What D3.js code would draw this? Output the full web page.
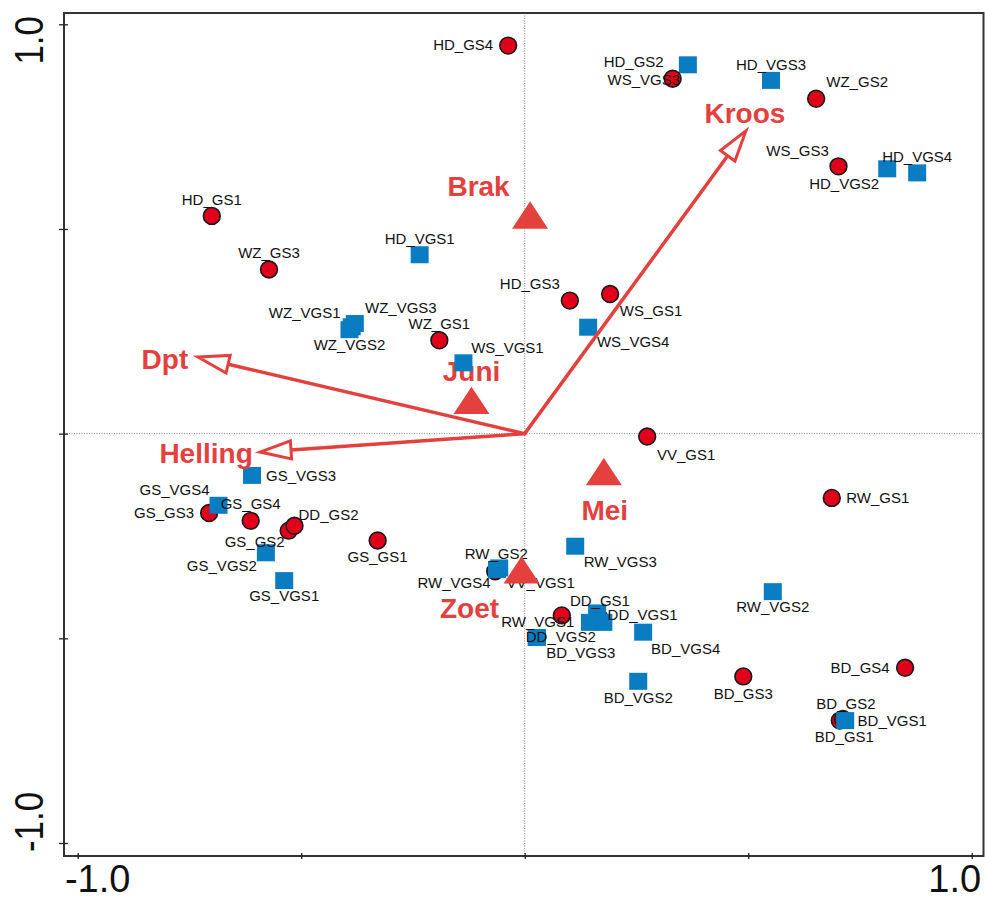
<!DOCTYPE html>
<html>
<head>
<meta charset="utf-8">
<script src="https://cdn.jsdelivr.net/npm/d3@7"></script>
<style>
  html, body { margin: 0; padding: 0; background: #fff; }
  svg { display: block; }
  text { font-family: "Liberation Sans", Arial, Helvetica, sans-serif; }
</style>
</head>
<body>
<svg id="chart" width="985" height="901"></svg>
<script>
// ---- Site scores (axis 1, axis 2); 'GS' drawn as circles, 'VGS' as squares ----
const siteNames = [
  "WS_VGS3",
  "HD_GS4", "HD_GS2", "WZ_GS2", "WS_GS3", "HD_GS1", "WZ_GS3", "HD_GS3", "WS_GS1",
  "WZ_GS1", "VV_GS1", "RW_GS1", "GS_GS3", "GS_GS4", "GS_GS2", "DD_GS2", "GS_GS1",
  "RW_GS2", "RW_VGS1", "DD_GS1", "BD_GS3", "BD_GS4", "BD_GS1", "BD_GS2",
  "HD_VGS3", "HD_VGS2", "HD_VGS4", "HD_VGS1", "WZ_VGS1", "WZ_VGS3", "WZ_VGS2",
  "WS_VGS4", "WS_VGS1", "GS_VGS3", "GS_VGS4", "GS_VGS2", "GS_VGS1", "RW_VGS4",
  "VV_VGS1", "RW_VGS3", "DD_VGS1", "DD_VGS3", "DD_VGS4", "DD_VGS2", "BD_VGS3",
  "BD_VGS4", "BD_VGS2", "RW_VGS2", "BD_VGS1"
];
const siteType = [
  "VGS",
  "GS", "GS", "GS", "GS", "GS", "GS", "GS", "GS",
  "GS", "GS", "GS", "GS", "GS", "GS", "GS", "GS",
  "GS", "GS", "GS", "GS", "GS", "GS", "GS",
  "VGS", "VGS", "VGS", "VGS", "VGS", "VGS", "VGS",
  "VGS", "VGS", "VGS", "VGS", "VGS", "VGS", "VGS",
  "VGS", "VGS", "VGS", "VGS", "VGS", "VGS", "VGS",
  "VGS", "VGS", "VGS", "VGS"
];
const siteAxis1 = [
  0.365,
  -0.037, 0.331, 0.652, 0.702, -0.700, -0.572, 0.101, 0.191,
  -0.191, 0.274, 0.687, -0.706, -0.613, -0.528, -0.515, -0.329,
  -0.066, 0.083, 0.166, 0.489, 0.851, 0.705, 0.712,
  0.551, 0.811, 0.878, -0.235, -0.387, -0.380, -0.392,
  0.142, -0.137, -0.610, -0.685, -0.579, -0.538, -0.062,
  -0.057, 0.113, 0.162, 0.146, 0.176, 0.027, 0.027,
  0.265, 0.254, 0.555, 0.717
];
const siteAxis2 = [
  0.901,
  0.948, 0.867, 0.818, 0.653, 0.532, 0.401, 0.325, 0.341,
  0.228, -0.007, -0.157, -0.194, -0.213, -0.237, -0.225, -0.261,
  -0.336, -0.444, -0.448, -0.593, -0.572, -0.701, -0.697,
  0.863, 0.647, 0.637, 0.437, 0.261, 0.269, 0.254,
  0.260, 0.173, -0.102, -0.175, -0.291, -0.359, -0.332,
  -0.328, -0.275, -0.438, -0.461, -0.461, -0.498, -0.498,
  -0.485, -0.605, -0.386, -0.701
];

// ---- Environmental vectors (arrows) ----
const envNames = ["Kroos", "Dpt", "Helling"];
const envAxis1 = [0.495, -0.731, -0.592];
const envAxis2 = [0.740, 0.187, -0.045];

// ---- Nominal variable centroids (triangles) ----
const centroidNames = ["Brak", "Juni", "Mei", "Zoet"];
const centroidAxis1 = [0.012, -0.119, 0.177, -0.007];
const centroidAxis2 = [0.534, 0.081, -0.093, -0.333];

// ---- Axis ticks ----
const tickValues = [-1, -0.5, 0, 0.5, 1];
const tickLabels = ["-1.0", "1.0"];
const tickLabelValues = [-1, 1];

// ---- Label placement (pixel offsets of label centre from its mark) ----
const siteLabelOffset = {
  HD_GS4: [-45, -1], HD_GS2: [-39, -17], WS_VGS3: [-44, 15], HD_VGS3: [0, -16],
  WZ_GS2: [41, -17], WS_GS3: [-41, -16], HD_VGS2: [-43, 15], HD_VGS4: [0, -16],
  HD_GS1: [0, -16], WZ_GS3: [0, -17], HD_VGS1: [0, -16], HD_GS3: [-40, -17],
  WS_GS1: [41, 17], WS_VGS4: [45, 14], WZ_VGS1: [-47, -14], WZ_VGS3: [46, -16],
  WZ_VGS2: [0, 15], WZ_GS1: [0, -17], WS_VGS1: [44, -15], VV_GS1: [39, 18],
  RW_GS1: [46, 0], GS_VGS3: [49, 0], GS_VGS4: [-44, -16], GS_GS3: [-45, 0],
  GS_GS4: [0, -17], DD_GS2: [34, -11], GS_GS2: [-34, 11], GS_VGS2: [-44, 13],
  GS_VGS1: [0, 15], GS_GS1: [0, 16], RW_GS2: [1, -18], RW_VGS4: [-43, 13],
  VV_VGS1: [41.5, 15], RW_VGS3: [45, 15], RW_VGS1: [-24, 6], DD_GS1: [1, -16],
  DD_VGS1: [45.5, 2], DD_VGS2: [24, -1], BD_VGS3: [44, 15], BD_VGS4: [42.5, 16],
  BD_VGS2: [0, 16], RW_VGS2: [0, 15], BD_GS3: [0, 17], BD_GS4: [-45, 0],
  BD_GS2: [3, -15], BD_VGS1: [47, 0], BD_GS1: [4.5, 16]
};
const envLabelOffset = { Kroos: [-1, -18], Dpt: [-33, 2], Helling: [-54, 1] };
const centroidLabelOffset = { Brak: [-51.5, -29], Juni: [0, -29], Mei: [1, 38.5], Zoet: [-52, 38] };

// ---- Layout & style ----
const frame = { left: 64, top: 13, right: 983.5, bottom: 856 };
const RED = "#e4403e";
const CIRCLE_FILL = "#e1001a";
const SQUARE_FILL = "#0a7cc1";

const svg = d3.select("#chart");
const x = d3.scaleLinear().domain([-1, 1]).range([77.7, 971.7]);
const y = d3.scaleLinear().domain([-1, 1]).range([843, 24.3]);

// Dotted zero lines
svg.append("line")
  .attr("x1", x(0)).attr("x2", x(0)).attr("y1", frame.top).attr("y2", frame.bottom)
  .attr("stroke", "#8c8c8c").attr("stroke-width", 1).attr("stroke-dasharray", "1,1.5");
svg.append("line")
  .attr("x1", frame.left).attr("x2", frame.right).attr("y1", y(0)).attr("y2", y(0))
  .attr("stroke", "#8c8c8c").attr("stroke-width", 1).attr("stroke-dasharray", "1,1.5");

// Plot frame
svg.append("rect")
  .attr("x", frame.left).attr("y", frame.top)
  .attr("width", frame.right - frame.left).attr("height", frame.bottom - frame.top)
  .attr("fill", "none").attr("stroke", "#333").attr("stroke-width", 2);

// Ticks (crossing the frame line)
const leftAxis = svg.append("g").attr("transform", `translate(${frame.left + 4},0)`)
  .call(d3.axisLeft(y).tickValues(tickValues).tickSize(9).tickFormat(""));
leftAxis.select(".domain").remove();
leftAxis.selectAll("line").attr("stroke", "#222").attr("stroke-width", 1.3);

const bottomAxis = svg.append("g").attr("transform", `translate(0,${frame.bottom - 3})`)
  .call(d3.axisBottom(x).tickValues(tickValues).tickSize(6).tickFormat(""));
bottomAxis.select(".domain").remove();
bottomAxis.selectAll("line").attr("stroke", "#222").attr("stroke-width", 1.3);

// Tick labels: vertical on the left, horizontal along the bottom
const leftLabelShift = [-21, 16];
const bottomLabelShift = [20, -17];
tickLabelValues.forEach((v, i) => {
  svg.append("text")
    .attr("transform", `translate(43,${y(v) + leftLabelShift[i]}) rotate(-90) scale(0.87,1)`)
    .attr("text-anchor", "middle")
    .attr("font-size", 40).attr("fill", "#111")
    .text(tickLabels[i]);
  svg.append("text")
    .attr("x", x(v) + bottomLabelShift[i]).attr("y", 892)
    .attr("text-anchor", "middle")
    .attr("font-size", 38).attr("fill", "#111")
    .text(tickLabels[i]);
});

// Centroid labels (beneath the site symbols)
const centroids = centroidNames.map((n, i) => ({ name: n, a1: centroidAxis1[i], a2: centroidAxis2[i] }));
svg.append("g").selectAll("text").data(centroids).join("text")
  .attr("x", d => x(d.a1) + centroidLabelOffset[d.name][0])
  .attr("y", d => y(d.a2) + centroidLabelOffset[d.name][1] + 10)
  .attr("text-anchor", "middle")
  .attr("font-size", 28).attr("font-weight", "bold").attr("fill", RED)
  .text(d => d.name);

// Site symbols
const sites = siteNames.map((n, i) => ({ name: n, type: siteType[i], a1: siteAxis1[i], a2: siteAxis2[i] }));
const gSites = svg.append("g");
sites.forEach(d => {
  if (d.type === "GS") {
    gSites.append("circle")
      .attr("cx", x(d.a1)).attr("cy", y(d.a2)).attr("r", 8.4)
      .attr("fill", CIRCLE_FILL).attr("stroke", "#1a1a1a").attr("stroke-width", 1.6);
  } else {
    gSites.append("rect")
      .attr("x", x(d.a1) - 9).attr("y", y(d.a2) - 8.5)
      .attr("width", 18).attr("height", 17)
      .attr("fill", SQUARE_FILL);
  }
});

// Site labels
svg.append("g").selectAll("text").data(sites.filter(d => siteLabelOffset[d.name])).join("text")
  .attr("x", d => x(d.a1) + siteLabelOffset[d.name][0])
  .attr("y", d => y(d.a2) + siteLabelOffset[d.name][1] + 5.4)
  .attr("text-anchor", "middle")
  .attr("font-size", 15).attr("fill", "#111")
  .text(d => d.name);

// Environmental arrows with open heads
const env = envNames.map((n, i) => ({ name: n, a1: envAxis1[i], a2: envAxis2[i] }));
const ox = x(0), oy = y(0);
const headLen = 31, headHalf = 9;
const gArrows = svg.append("g");
env.forEach(d => {
  const tx = x(d.a1), ty = y(d.a2);
  const len = Math.hypot(tx - ox, ty - oy);
  const ux = (tx - ox) / len, uy = (ty - oy) / len;
  const bx = tx - ux * headLen, by = ty - uy * headLen;
  const nx = -uy, ny = ux;
  gArrows.append("line")
    .attr("x1", ox).attr("y1", oy).attr("x2", bx).attr("y2", by)
    .attr("stroke", RED).attr("stroke-width", 3.5).attr("stroke-linecap", "round");
  gArrows.append("path")
    .attr("d", `M${tx},${ty}L${bx + nx * headHalf},${by + ny * headHalf}L${bx - nx * headHalf},${by - ny * headHalf}Z`)
    .attr("fill", "#fff").attr("stroke", RED).attr("stroke-width", 3).attr("stroke-linejoin", "miter");
  svg.append("text")
    .attr("x", tx + envLabelOffset[d.name][0])
    .attr("y", ty + envLabelOffset[d.name][1] + 10)
    .attr("text-anchor", "middle")
    .attr("font-size", 28).attr("font-weight", "bold").attr("fill", RED)
    .text(d.name);
});

// Centroid triangles
svg.append("g").selectAll("path").data(centroids).join("path")
  .attr("d", d => {
    const cx = x(d.a1), cy = y(d.a2);
    return `M${cx},${cy - 13.7}L${cx + 18},${cy + 13.6}L${cx - 18},${cy + 13.6}Z`;
  })
  .attr("fill", RED);
</script>
</body>
</html>
